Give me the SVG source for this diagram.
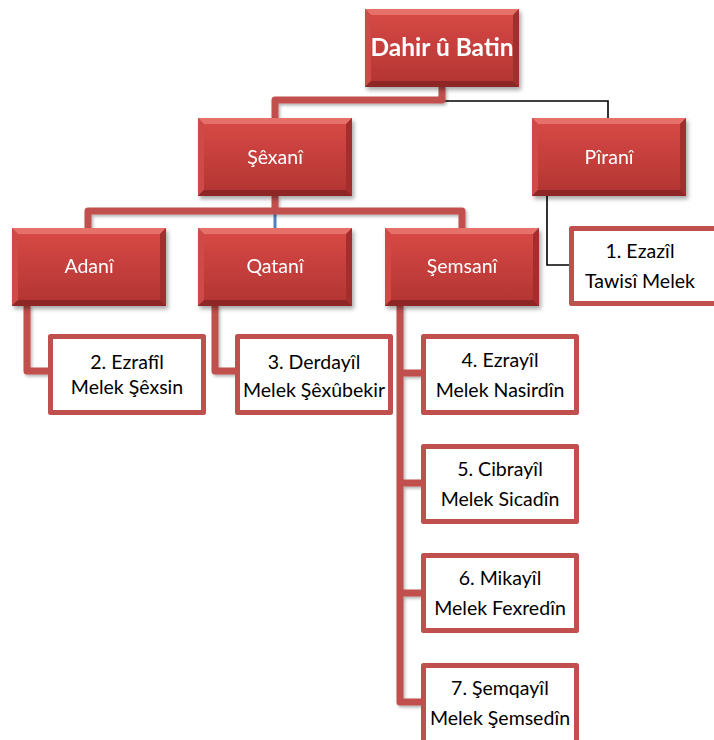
<svg xmlns="http://www.w3.org/2000/svg" xmlns:xlink="http://www.w3.org/1999/xlink" width="714" height="740" viewBox="0 0 714 740">
<style>
.conn{fill:none;stroke:#c0504d;stroke-width:7;stroke-linejoin:round;stroke-linecap:butt}
.thin{fill:none;stroke:#000;stroke-width:1.6}
.blue{fill:none;stroke:#4f81bd;stroke-width:3}
.wbox{fill:#fff;stroke:#c0504d;stroke-width:5;stroke-linejoin:round}
.wt{font-family:Lato,"Open Sans","Liberation Sans",sans-serif;font-size:19.5px;fill:#000;text-anchor:middle}
.rt{font-family:Lato,"Open Sans","Liberation Sans",sans-serif;font-size:19.5px;fill:#fff;text-anchor:middle}
.root{font-family:Lato,"Open Sans","Liberation Sans",sans-serif;font-size:24.5px;font-weight:bold;fill:#fff;text-anchor:middle}
</style>
<defs>
<linearGradient id="rg" x1="0" y1="0" x2="0" y2="1">
<stop offset="0" stop-color="#d94a46"/>
<stop offset="1" stop-color="#b13432"/>
</linearGradient>
<filter id="sh" x="-10%" y="-10%" width="130%" height="140%">
<feDropShadow dx="2" dy="3" stdDeviation="2" flood-color="#000" flood-opacity="0.35"/>
</filter>
<filter id="sh2" x="-10%" y="-10%" width="130%" height="130%">
<feDropShadow dx="1.5" dy="2" stdDeviation="1.5" flood-color="#000" flood-opacity="0.3"/>
</filter>
<g id="rb">
<rect x="0" y="0" width="154" height="78" fill="url(#rg)"/>
<polygon points="0,0 154,0 148,6 6,6" fill="#e6706b"/>
<polygon points="0,0 6,6 6,72 0,78" fill="#cf4a47"/>
<polygon points="154,0 154,78 148,72 148,6" fill="#a32e2d"/>
<polygon points="0,78 154,78 148,72 6,72" fill="#8e2827"/>
</g>
</defs>
<rect width="714" height="740" fill="#fff"/>
<g id="connectors">
<path class="thin" d="M442,101 H608 V118"/>
<path class="thin" d="M547,196 V265 H569"/>
<path class="blue" d="M275,211 V228"/>
<g filter="url(#sh2)">
<path class="conn" d="M442,87 V100 H275 V118"/>
<path class="conn" d="M275,196 V211"/>
<path class="conn" d="M88,228 V211 H462 V228"/>
<path class="conn" d="M27,305 V371 H48"/>
<path class="conn" d="M215,305 V371 H235"/>
<path class="conn" d="M400,305 V702 H421"/>
<path class="conn" d="M400,373 H421"/>
<path class="conn" d="M400,483 H421"/>
<path class="conn" d="M400,593 H421"/>
</g>
</g>
<g id="n-root" filter="url(#sh)"><use xlink:href="#rb" x="365" y="9"/><text class="root" x="442" y="56">Dahir û Batin</text></g>
<g id="n-sexani" filter="url(#sh)"><use xlink:href="#rb" x="198" y="118"/><text class="rt" x="275" y="164">Şêxanî</text></g>
<g id="n-pirani" filter="url(#sh)"><use xlink:href="#rb" x="532" y="118"/><text class="rt" x="609" y="164">Pîranî</text></g>
<g id="n-adani" filter="url(#sh)"><use xlink:href="#rb" x="12" y="228"/><text class="rt" x="89" y="273">Adanî</text></g>
<g id="n-qatani" filter="url(#sh)"><use xlink:href="#rb" x="198" y="228"/><text class="rt" x="275" y="273">Qatanî</text></g>
<g id="n-semsani" filter="url(#sh)"><use xlink:href="#rb" x="385" y="228"/><text class="rt" x="462" y="273">Şemsanî</text></g>
<g id="n-ezazil"><rect class="wbox" x="571.5" y="228.5" width="150" height="75"/><text class="wt" x="640" y="258">1. Ezazîl</text><text class="wt" x="640" y="288">Tawisî Melek</text></g>
<g id="n-ezrafil"><rect class="wbox" x="50.5" y="336.5" width="153" height="76"/><text class="wt" x="127" y="369">2. Ezrafîl</text><text class="wt" x="127" y="394">Melek Şêxsin</text></g>
<g id="n-derdayil"><rect class="wbox" x="237.5" y="336.5" width="153" height="76"/><text class="wt" x="314" y="369">3. Derdayîl</text><text class="wt" x="314" y="397">Melek Şêxûbekir</text></g>
<g id="n-ezrayil"><rect class="wbox" x="423.5" y="336.5" width="153" height="76"/><text class="wt" x="500" y="367">4. Ezrayîl</text><text class="wt" x="500" y="397">Melek Nasirdîn</text></g>
<g id="n-cibrayil"><rect class="wbox" x="423.5" y="446.5" width="153" height="75"/><text class="wt" x="500" y="476">5. Cibrayîl</text><text class="wt" x="500" y="506">Melek Sicadîn</text></g>
<g id="n-mikayil"><rect class="wbox" x="423.5" y="555.5" width="153" height="75"/><text class="wt" x="500" y="585">6. Mikayîl</text><text class="wt" x="500" y="615">Melek Fexredîn</text></g>
<g id="n-semqayil"><rect class="wbox" x="423.5" y="665.5" width="153" height="80"/><text class="wt" x="500" y="695">7. Şemqayîl</text><text class="wt" x="500" y="725">Melek Şemsedîn</text></g>
</svg>
